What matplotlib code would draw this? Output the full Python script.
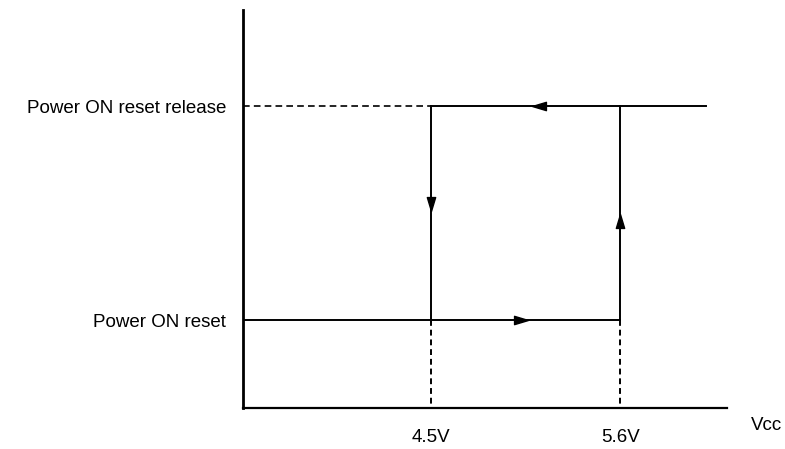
import matplotlib.pyplot as plt

plt.rcParams['font.family'] = ['Liberation Sans', 'DejaVu Sans']

# thresholds (V) and output levels
v_low = 4.5
v_high = 5.6
v_end = 6.1
level_reset = 0.0
level_release = 1.0
level_names = ["Power ON reset", "Power ON reset release"]
tick_labels = ["4.5V", "5.6V"]

# arrow tips along the loop (x, y, direction)
arrows = [(5.094, level_release, 'left'), (v_low, 0.514, 'down'),
          (5.059, level_reset, 'right'), (v_high, 0.49, 'up')]

fig = plt.figure(figsize=(7.85, 4.49), dpi=100)
ax = fig.add_axes([243 / 785, 41 / 449, 484 / 785, 398 / 449])
ax.set_xlim(3.406, 6.22)
ax.set_ylim(-0.41, 1.449)

for s in ['top', 'right']:
    ax.spines[s].set_visible(False)
ax.spines['left'].set_linewidth(2)
ax.spines['bottom'].set_linewidth(1.6)

x0 = ax.get_xlim()[0]
y0 = ax.get_ylim()[0]
lw = 1.4
dash = (0, (4, 2.5))

# hysteresis loop
ax.plot([v_end, v_low], [level_release, level_release], color='black', lw=lw)
ax.plot([v_low, v_low], [level_release, level_reset], color='black', lw=lw)
ax.plot([x0, v_high], [level_reset, level_reset], color='black', lw=lw)
ax.plot([v_high, v_high], [level_reset, level_release], color='black', lw=lw)

# dashed guides
ax.plot([x0, v_low], [level_release, level_release], color='black', lw=1.2, ls=dash)
ax.plot([v_low, v_low], [level_reset, y0], color='black', lw=1.4, ls=(0, (3, 2)))
ax.plot([v_high, v_high], [level_reset, y0], color='black', lw=1.4, ls=(0, (3, 2)))

# arrowheads
shapes = {
    'left': [(-1, 0), (1, 0.6), (1, -0.6), (-1, 0)],
    'right': [(1, 0), (-1, 0.6), (-1, -0.6), (1, 0)],
    'down': [(0, -1), (0.6, 1), (-0.6, 1), (0, -1)],
    'up': [(0, 1), (0.6, -1), (-0.6, -1), (0, 1)],
}
offsets = {'left': (0.035, 0), 'right': (-0.035, 0), 'down': (0, 0.028), 'up': (0, -0.028)}
for x, y, d in arrows:
    dx, dy = offsets[d]
    ax.plot(x + dx, y + dy, marker=shapes[d], color='black', ms=10, lw=0)

ax.set_xticks([v_low, v_high])
ax.set_xticklabels(tick_labels, fontsize=13.5)
ax.set_yticks([level_reset, level_release])
ax.set_yticklabels(level_names, fontsize=13.5)
ax.tick_params(axis='x', length=0, pad=15)
ax.tick_params(axis='y', length=0, pad=12)

ax.text(6.36, y0 - 0.08, "Vcc", fontsize=13.5, ha='left', va='center')

fig.savefig('out.png', dpi=100)
